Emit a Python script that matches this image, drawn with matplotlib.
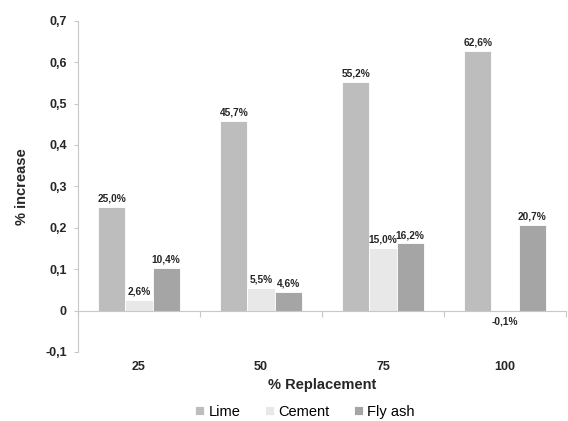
import matplotlib
matplotlib.use("Agg")
import matplotlib.pyplot as plt
import numpy as np

plt.rcParams['font.family'] = ['Liberation Sans', 'DejaVu Sans']

categories = ['25', '50', '75', '100']
series = ['Lime', 'Cement', 'Fly ash']
lime = [0.250, 0.457, 0.552, 0.626]
cement = [0.026, 0.055, 0.150, -0.001]
fly_ash = [0.104, 0.046, 0.162, 0.207]
yticks = [-0.1, 0, 0.1, 0.2, 0.3, 0.4, 0.5, 0.6, 0.7]

colors = ['#bdbdbd', '#e8e8e8', '#a5a5a5']
grey = '#c8c8c8'
ink = '#262626'


def fmt(v):
    return ('%.1f' % (v * 100)).replace('.', ',') + '%'


def tick_fmt(v):
    if abs(v) < 1e-9:
        return '0'
    return ('%.1f' % v).replace('.', ',')


fig = plt.figure(figsize=(5.68, 4.21), dpi=100)
ax = fig.add_axes([78 / 568, 1 - 352 / 421, 488 / 568, 331.3 / 421])

x = np.arange(len(categories))
w = 0.222
for i, (name, vals) in enumerate(zip(series, [lime, cement, fly_ash])):
    pos = x + (i - 1) * w
    ax.bar(pos, vals, w, color=colors[i], edgecolor='white', linewidth=0.6, label=name)
    for px, v in zip(pos, vals):
        if v >= 0:
            ax.annotate(fmt(v), (px, v), xytext=(0, 2.5), textcoords='offset points',
                        ha='center', va='bottom', fontsize=7.3, fontweight='bold', color=ink)
        else:
            ax.annotate(fmt(v), (px, 0), xytext=(0, -4), textcoords='offset points',
                        ha='center', va='top', fontsize=7.3, fontweight='bold', color=ink)

ax.set_xlim(-0.5, 3.5)
ax.set_ylim(-0.1, 0.7)
ax.set_yticks(yticks)
ax.set_yticklabels([tick_fmt(v) for v in yticks], fontsize=9, fontweight='bold', color=ink)
ax.tick_params(axis='y', length=3, width=0.8, color=grey, pad=5)

ax.spines['top'].set_visible(False)
ax.spines['right'].set_visible(False)
ax.spines['left'].set_color(grey)
ax.spines['bottom'].set_color(grey)
ax.spines['bottom'].set_position(('data', 0))

ax.set_xticks(x)
ax.set_xticklabels(categories, fontsize=9, fontweight='bold', color=ink)
ax.tick_params(axis='x', which='major', length=0, pad=36)
ax.set_xticks(np.arange(-0.5, 4, 1), minor=True)
ax.tick_params(axis='x', which='minor', length=4, width=0.8, color=grey, direction='out')

ax.set_xlabel('% Replacement', fontsize=10.5, fontweight='bold', color=ink)
ax.xaxis.set_label_coords(0.5, -0.078)
ax.set_ylabel('% increase', fontsize=10.5, fontweight='bold', color=ink)
ax.yaxis.set_label_coords(-0.1, 0.5)

fig.legend(loc='center', bbox_to_anchor=(305 / 568, 1 - 412 / 421), ncol=3, frameon=False,
           fontsize=10.5, handlelength=0.6, handleheight=0.6, handletextpad=0.3, columnspacing=1.7)

fig.savefig('out.png', dpi=100, facecolor='white')
